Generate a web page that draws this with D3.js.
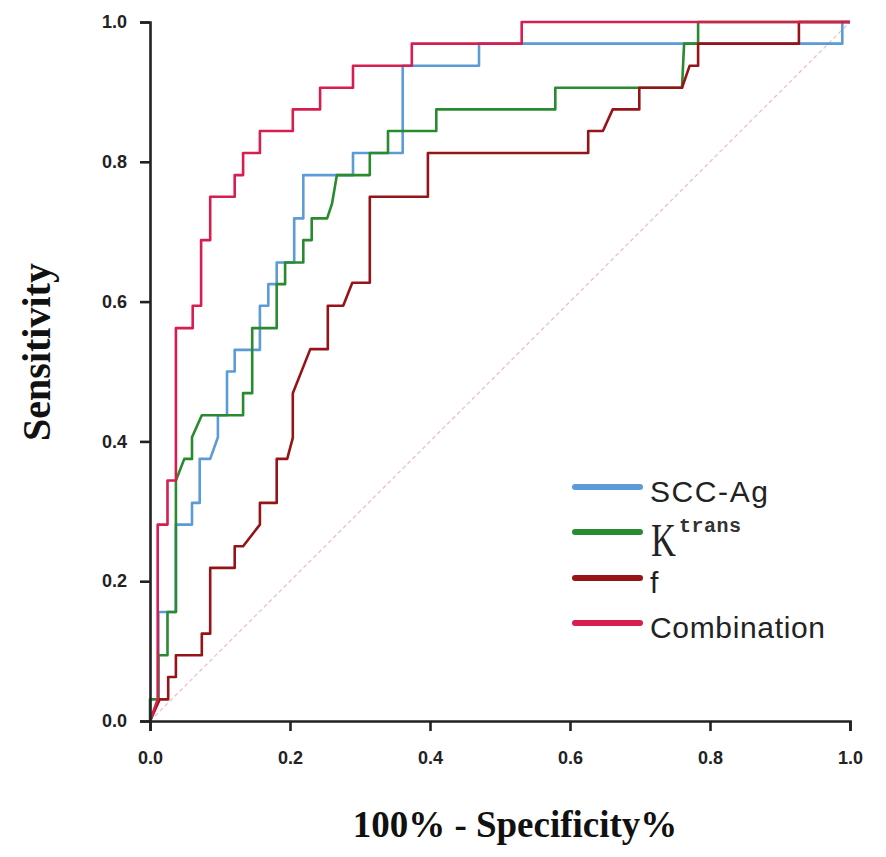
<!DOCTYPE html>
<html>
<head>
<meta charset="utf-8">
<script src="https://cdn.jsdelivr.net/npm/d3@7"></script>
<style>
  body { margin: 0; background: #fff; }
</style>
</head>
<body>
<script>
var width = 886;
var height = 857;

// ROC points: [1 - specificity, sensitivity]
var sccAg = [[0,0],[0.012,0.031],[0.012,0.156],[0.037,0.156],[0.037,0.281],[0.06,0.281],[0.06,0.312],
  [0.071,0.312],[0.071,0.375],[0.086,0.375],[0.097,0.406],[0.097,0.4375],[0.11,0.4375],[0.11,0.5],
  [0.121,0.5],[0.121,0.531],[0.157,0.531],[0.157,0.594],[0.169,0.594],[0.169,0.625],[0.181,0.625],
  [0.181,0.656],[0.206,0.656],[0.206,0.719],[0.219,0.719],[0.219,0.781],[0.29,0.781],[0.29,0.8125],
  [0.361,0.8125],[0.361,0.9375],[0.47,0.9375],[0.47,0.969],[0.989,0.969],[0.989,1],[1,1]];

var ktrans = [[0,0],[0,0.031],[0.012,0.031],[0.012,0.094],[0.025,0.094],[0.025,0.156],[0.037,0.156],
  [0.037,0.344],[0.049,0.375],[0.06,0.375],[0.06,0.406],[0.074,0.4375],[0.133,0.4375],[0.133,0.469],
  [0.146,0.469],[0.146,0.562],[0.181,0.562],[0.181,0.625],[0.193,0.625],[0.193,0.656],[0.219,0.656],
  [0.219,0.688],[0.231,0.688],[0.231,0.719],[0.253,0.719],[0.26,0.74],[0.267,0.781],[0.314,0.781],
  [0.314,0.8125],[0.34,0.8125],[0.34,0.844],[0.409,0.844],[0.409,0.875],[0.579,0.875],[0.579,0.906],
  [0.76,0.906],[0.763,0.969],[0.783,0.969],[0.783,1],[1,1]];

var fParam = [[0,0],[0.014,0.031],[0.026,0.031],[0.026,0.063],[0.037,0.063],[0.037,0.094],[0.074,0.094],
  [0.074,0.125],[0.086,0.125],[0.086,0.219],[0.121,0.219],[0.121,0.25],[0.133,0.25],[0.157,0.281],
  [0.157,0.312],[0.181,0.312],[0.181,0.375],[0.196,0.375],[0.204,0.405],[0.204,0.469],[0.229,0.532],
  [0.254,0.532],[0.254,0.594],[0.276,0.594],[0.289,0.627],[0.314,0.627],[0.314,0.75],[0.397,0.75],
  [0.397,0.8125],[0.626,0.8125],[0.626,0.844],[0.647,0.844],[0.661,0.875],[0.699,0.875],[0.699,0.906],
  [0.76,0.906],[0.771,0.9375],[0.783,0.9375],[0.783,0.969],[0.927,0.969],[0.927,1],[1,1]];

var combination = [[0,0],[0.011,0.031],[0.011,0.281],[0.025,0.281],[0.025,0.344],[0.037,0.344],
  [0.037,0.562],[0.061,0.562],[0.061,0.594],[0.073,0.594],[0.073,0.688],[0.086,0.688],[0.086,0.75],
  [0.121,0.75],[0.121,0.781],[0.133,0.781],[0.133,0.8125],[0.157,0.8125],[0.157,0.844],[0.204,0.844],
  [0.204,0.875],[0.243,0.875],[0.243,0.906],[0.29,0.906],[0.29,0.9375],[0.374,0.9375],[0.374,0.969],
  [0.531,0.969],[0.531,1],[1,1]];

var reference = [[0,0],[1,1]];
var ticks = [0, 0.2, 0.4, 0.6, 0.8, 1.0];

var series = [
  {name: "SCC-Ag", points: sccAg, color: "#5b9bd8"},
  {name: "Ktrans", points: ktrans, color: "#2a8a2f"},
  {name: "f", points: fParam, color: "#961418"},
  {name: "Combination", points: combination, color: "#d61f4f"}
];

var svg = d3.select("body")
    .append("svg")
    .attr("width", width)
    .attr("height", height);

var x = d3.scaleLinear().domain([0, 1]).range([150, 850]);
var y = d3.scaleLinear().domain([0, 1]).range([721, 22]);

var line = d3.line()
    .x(function(d) { return x(d[0]); })
    .y(function(d) { return y(d[1]); });

svg.append("path")
    .datum(reference)
    .attr("d", line)
    .attr("fill", "none")
    .attr("stroke", "#f2b8c6")
    .attr("stroke-width", 1.2)
    .attr("stroke-dasharray", "4,3");

svg.selectAll(".roc")
    .data(series)
    .enter()
    .append("path")
    .attr("class", "roc")
    .attr("d", function(d) { return line(d.points); })
    .attr("fill", "none")
    .attr("stroke", function(d) { return d.color; })
    .attr("stroke-width", 2.6)
    .attr("stroke-linejoin", "round");

var fmt = d3.format(".1f");

var xAxis = svg.append("g")
    .attr("transform", "translate(0,721)")
    .call(d3.axisBottom(x).tickValues(ticks).tickFormat(fmt).tickSize(10).tickSizeOuter(10).tickPadding(20));

var yAxis = svg.append("g")
    .attr("transform", "translate(150,0)")
    .call(d3.axisLeft(y).tickValues(ticks).tickFormat(fmt).tickSize(10).tickSizeOuter(10).tickPadding(13));

[xAxis, yAxis].forEach(function(g) {
  g.selectAll("path, line").attr("stroke", "#222").attr("stroke-width", 2.6);
  g.selectAll("text")
      .attr("font-family", "Liberation Sans")
      .attr("font-weight", "bold")
      .attr("font-size", "18px")
      .attr("fill", "#222");
});

svg.append("text")
    .attr("x", 515)
    .attr("y", 837)
    .attr("text-anchor", "middle")
    .attr("font-family", "Liberation Serif")
    .attr("font-weight", "bold")
    .attr("font-size", "37px")
    .attr("fill", "#111")
    .text("100% - Specificity%");

svg.append("text")
    .attr("transform", "translate(50,352) rotate(-90)")
    .attr("text-anchor", "middle")
    .attr("font-family", "Liberation Serif")
    .attr("font-weight", "bold")
    .attr("font-size", "40px")
    .attr("fill", "#111")
    .text("Sensitivity");

// legend
var legY = [487, 532, 578, 623];
var legLen = {"SCC-Ag": 118, "f": 10, "Combination": 175};
var legend = svg.selectAll(".leg")
    .data(series)
    .enter()
    .append("g")
    .attr("class", "leg")
    .attr("transform", function(d, i) { return "translate(0," + legY[i] + ")"; });

legend.append("line")
    .attr("x1", 575)
    .attr("x2", 640)
    .attr("stroke", function(d) { return d.color; })
    .attr("stroke-width", 6)
    .attr("stroke-linecap", "round");

legend.each(function(d) {
  var g = d3.select(this);
  if (d.name === "Ktrans") {
    g.append("text")
        .attr("x", 651)
        .attr("y", 24)
        .attr("font-family", "Liberation Serif")
        .attr("font-size", "47px")
        .attr("textLength", 25)
        .attr("lengthAdjust", "spacingAndGlyphs")
        .attr("fill", "#222")
        .text("K");
    g.append("text")
        .attr("x", 679)
        .attr("y", 0)
        .attr("font-family", "Liberation Mono")
        .attr("font-weight", "bold")
        .attr("font-size", "20px")
        .attr("textLength", 62)
        .attr("fill", "#333")
        .text("trans");
  } else {
    var t = g.append("text")
        .attr("x", 650)
        .attr("y", 15)
        .attr("font-family", "Liberation Sans")
        .attr("font-size", "30px")
        .attr("fill", "#222")
        .text(d.name);
    if (d.name !== "f") t.attr("textLength", legLen[d.name]);
  }
});
</script>
</body>
</html>
